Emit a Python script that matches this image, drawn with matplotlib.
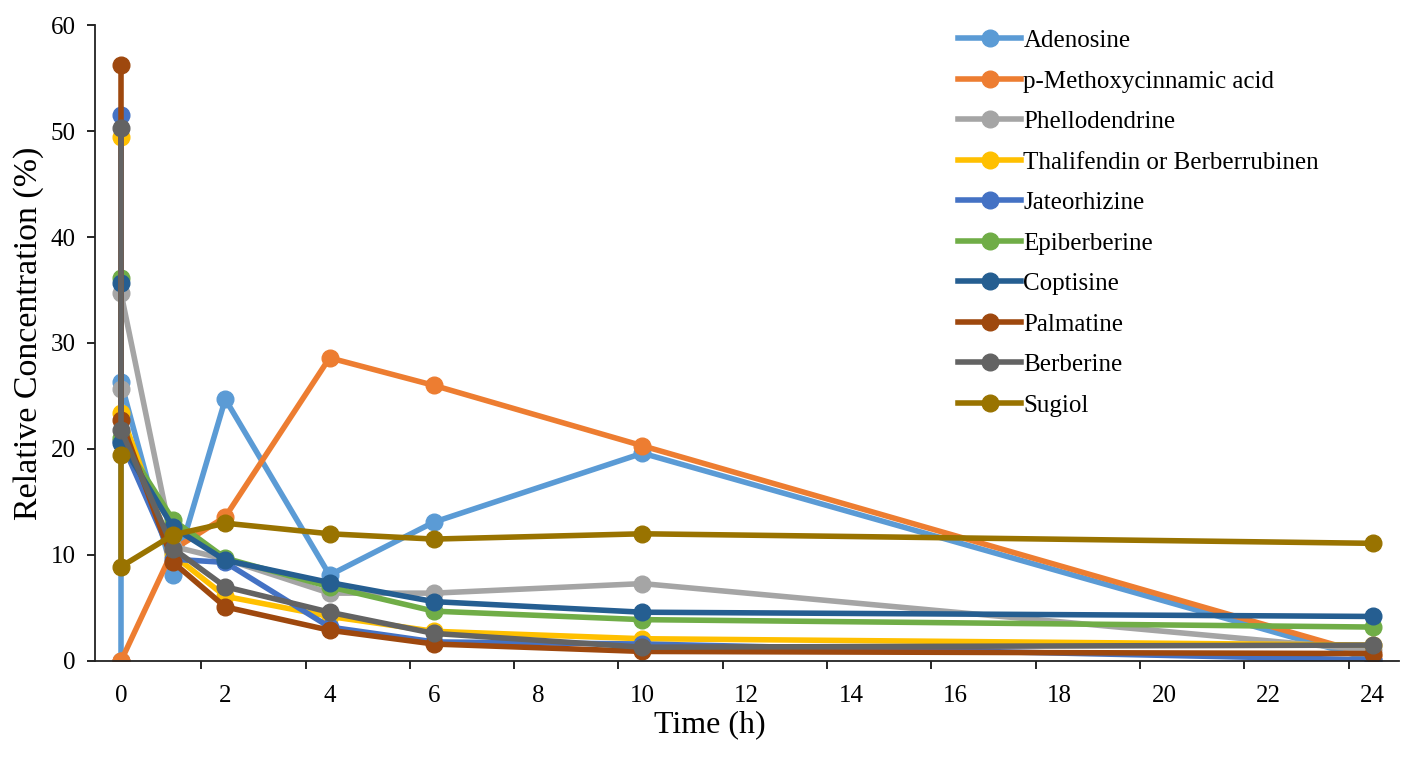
import matplotlib
matplotlib.use("Agg")
import matplotlib.pyplot as plt
import numpy as np

plt.rcParams['font.family'] = ['Liberation Serif', 'DejaVu Serif']

# sampling times (two readings at t = 0)
times = [0, 0, 1, 2, 4, 6, 10, 24]

names = ['Adenosine', 'p-Methoxycinnamic acid', 'Phellodendrine',
         'Thalifendin or Berberrubinen', 'Jateorhizine', 'Epiberberine',
         'Coptisine', 'Palmatine', 'Berberine', 'Sugiol']

adenosine = [0, 26.3, 8.1, 24.7, 8.1, 13.1, 19.6, 0.1]
methoxycinnamic = [0, 0, 10.5, 13.6, 28.6, 26.0, 20.3, 0.5]
phellodendrine = [25.7, 34.7, 10.8, 9.6, 6.4, 6.4, 7.3, 1.0]
thalifendin = [49.4, 23.4, 10.0, 6.1, 4.2, 2.8, 2.1, 1.5]
jateorhizine = [51.5, 20.8, 9.6, 9.3, 3.2, 1.8, 1.6, 0.1]
epiberberine = [36.1, 21.0, 13.3, 9.7, 7.0, 4.7, 3.9, 3.2]
coptisine = [35.7, 20.6, 12.6, 9.5, 7.4, 5.6, 4.6, 4.2]
palmatine = [56.2, 22.7, 9.3, 5.1, 2.9, 1.6, 0.9, 0.7]
berberine = [50.3, 21.8, 10.6, 7.0, 4.6, 2.6, 1.3, 1.5]
sugiol = [19.4, 8.9, 11.9, 13.0, 12.0, 11.5, 12.0, 11.1]

series = [adenosine, methoxycinnamic, phellodendrine, thalifendin, jateorhizine,
          epiberberine, coptisine, palmatine, berberine, sugiol]
colors = ['#5B9BD5', '#ED7D31', '#A5A5A5', '#FFC000', '#4472C4',
          '#70AD47', '#255E91', '#9E480E', '#636363', '#997300']

fig = plt.figure(figsize=(14.17, 7.58), dpi=100)
ax = fig.add_axes([0.067, 0.128, 0.92, 0.839])

for vals, name, col in zip(series, names, colors):
    ax.plot(times, vals, color=col, lw=4.0, marker='o', ms=12, label=name)

ax.set_xlim(-0.5, 24.5)
ax.set_ylim(0, 60)
ax.set_yticks(range(0, 61, 10))
ax.set_xticks(range(0, 25, 2))
ax.set_xticks([1.54 + 2 * k for k in range(12)], minor=True)
ax.tick_params(axis='x', which='major', length=0, pad=17, labelsize=18)
ax.tick_params(axis='x', which='minor', length=6, width=1.2, direction='out')
ax.tick_params(axis='y', length=6, width=1.2, direction='out', labelsize=18, pad=8)

for s in ['top', 'right']:
    ax.spines[s].set_visible(False)
for s in ['left', 'bottom']:
    ax.spines[s].set_linewidth(1.3)
    ax.spines[s].set_color('#222222')

ax.set_xlabel('Time (h)', fontsize=23)
ax.xaxis.set_label_coords(0.472, -0.077)
ax.set_ylabel('Relative Concentration (%)', fontsize=24.5)
ax.yaxis.set_label_coords(-0.039, 0.515)

ax.legend(loc='upper left', bbox_to_anchor=(0.645, 1.028), frameon=False,
          fontsize=18, handlelength=2.5, handletextpad=0.1, labelspacing=0.72)

plt.savefig('out.png', dpi=100)
plt.close('all')
